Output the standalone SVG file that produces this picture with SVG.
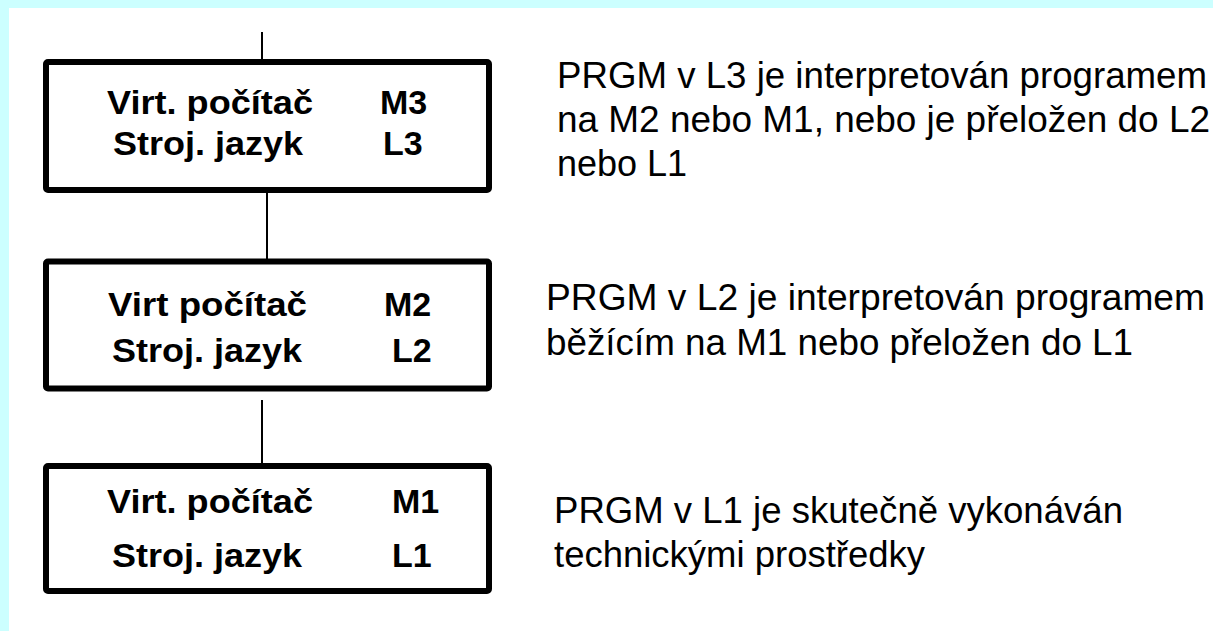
<svg xmlns="http://www.w3.org/2000/svg" width="1213" height="631" viewBox="0 0 1213 631">
<style>
.box{fill:#ffffff;stroke:#000000;stroke-width:6;stroke-linejoin:round}
.bt{font-family:"Liberation Sans",Arial,sans-serif;font-weight:bold;font-size:34px;fill:#000000}
.rt{font-family:"Liberation Sans",Arial,sans-serif;font-size:36px;fill:#000000}
.con{stroke:#000000;stroke-width:2;fill:none}
</style>
<rect x="0" y="0" width="1213" height="631" fill="#ffffff"/>
<rect x="0" y="0" width="1213" height="8" fill="#ccffff"/>
<rect x="0" y="0" width="9" height="631" fill="#ccffff"/>
<g id="connectors">
<line class="con" x1="262" y1="32" x2="262" y2="60"/>
<line class="con" x1="267" y1="192" x2="267" y2="259"/>
<line class="con" x1="262" y1="400" x2="262" y2="464"/>
</g>
<g id="node-m3">
<rect class="box" x="46" y="62" width="443" height="128" rx="2"/>
<text class="bt" x="107" y="114" textLength="206" lengthAdjust="spacingAndGlyphs">Virt. počítač</text>
<text class="bt" x="113" y="155" textLength="190" lengthAdjust="spacingAndGlyphs">Stroj. jazyk</text>
<text class="bt" x="380" y="114">M3</text>
<text class="bt" x="383" y="155">L3</text>
</g>
<g id="node-m2">
<rect class="box" x="46" y="261.5" width="443" height="127" rx="2"/>
<text class="bt" x="108" y="316" textLength="199" lengthAdjust="spacingAndGlyphs">Virt počítač</text>
<text class="bt" x="112" y="362" textLength="190" lengthAdjust="spacingAndGlyphs">Stroj. jazyk</text>
<text class="bt" x="384" y="316">M2</text>
<text class="bt" x="392" y="362">L2</text>
</g>
<g id="node-m1">
<rect class="box" x="46" y="466" width="443" height="125" rx="2"/>
<text class="bt" x="107" y="513" textLength="206" lengthAdjust="spacingAndGlyphs">Virt. počítač</text>
<text class="bt" x="112" y="567" textLength="190" lengthAdjust="spacingAndGlyphs">Stroj. jazyk</text>
<text class="bt" x="392" y="513">M1</text>
<text class="bt" x="392" y="567">L1</text>
</g>
<g id="note-l3">
<text class="rt" x="557" y="88" textLength="650" lengthAdjust="spacingAndGlyphs">PRGM v L3 je interpretován programem</text>
<text class="rt" x="557" y="132" textLength="653" lengthAdjust="spacingAndGlyphs">na M2 nebo M1, nebo je přeložen do L2</text>
<text class="rt" x="557" y="176">nebo L1</text>
</g>
<g id="note-l2">
<text class="rt" x="546" y="310" textLength="659" lengthAdjust="spacingAndGlyphs">PRGM v L2 je interpretován programem</text>
<text class="rt" x="546" y="355" textLength="587" lengthAdjust="spacingAndGlyphs">běžícím na M1 nebo přeložen do L1</text>
</g>
<g id="note-l1">
<text class="rt" x="554" y="523" textLength="569" lengthAdjust="spacingAndGlyphs">PRGM v L1 je skutečně vykonáván</text>
<text class="rt" x="554" y="567" textLength="371" lengthAdjust="spacingAndGlyphs">technickými prostředky</text>
</g>
</svg>
